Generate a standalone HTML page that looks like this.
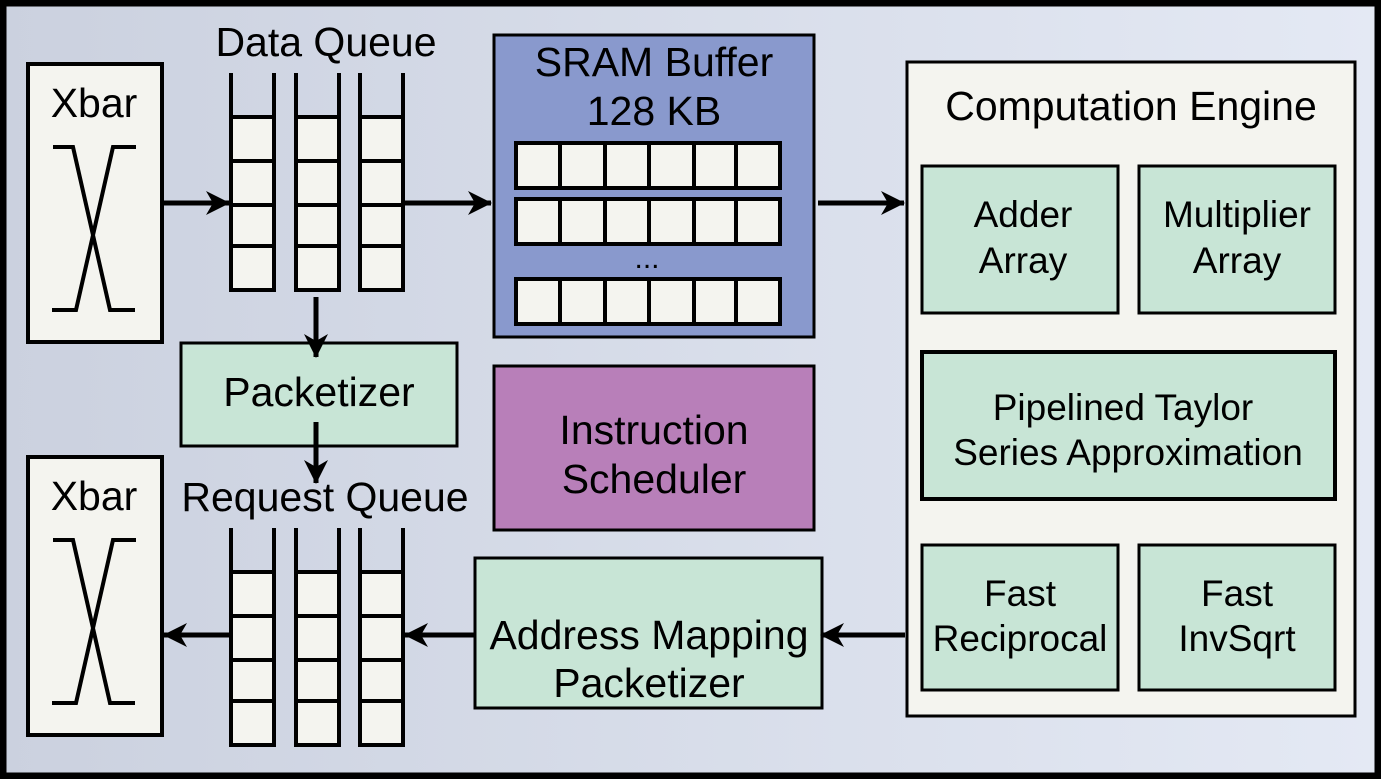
<!DOCTYPE html>
<html><head><style>
body{margin:0;width:1381px;height:779px;overflow:hidden;font-family:"Liberation Sans",sans-serif}
</style></head><body>
<svg width="1381" height="779" viewBox="0 0 1381 779" xmlns="http://www.w3.org/2000/svg" font-family="Liberation Sans, sans-serif">
<defs>
<linearGradient id="bg" x1="0" x2="1" y1="0" y2="0"><stop offset="0" stop-color="#cbd1df"/><stop offset="1" stop-color="#e4e9f4"/></linearGradient>
<marker id="ah" viewBox="0 0 24 24" refX="23" refY="12" markerWidth="24" markerHeight="24" markerUnits="userSpaceOnUse" orient="auto">
<path d="M0,0 L24,12 L0,24 L7,12 Z" fill="#000"/></marker>
<g id="q">
<path d="M2,0 V217 H45 V0" fill="none" stroke="#000" stroke-width="4"/>
<rect x="2" y="44" width="43" height="173" fill="#f4f4ef" stroke="#000" stroke-width="4"/>
<path d="M2,88 H45 M2,132 H45 M2,173 H45" stroke="#000" stroke-width="4"/>
</g>
<g id="xb">
<rect x="0" y="0" width="134" height="278" fill="#f4f4ef" stroke="#000" stroke-width="4"/>
<path d="M25,83 H45 L82,246 H107 M108,83 H85 L48,246 H24" fill="none" stroke="#000" stroke-width="4"/>
</g>
<g id="row">
<rect x="0" y="0" width="264" height="45" fill="#f4f4ef" stroke="#000" stroke-width="4"/>
<path d="M44,0 V45 M89,0 V45 M133,0 V45 M178,0 V45 M220,0 V45" stroke="#000" stroke-width="4"/>
</g>
</defs>
<rect x="3" y="3" width="1375" height="773" fill="url(#bg)" stroke="#000" stroke-width="7"/>
<use href="#xb" x="28" y="64"/>
<text x="94" y="117" font-size="41" text-anchor="middle">Xbar</text>
<use href="#xb" x="28" y="457"/>
<text x="94" y="510" font-size="41" text-anchor="middle">Xbar</text>
<text x="326" y="56" font-size="41" text-anchor="middle">Data Queue</text>
<use href="#q" x="229" y="73"/><use href="#q" x="294" y="73"/><use href="#q" x="358" y="73"/>
<text x="325" y="511" font-size="41" text-anchor="middle">Request Queue</text>
<use href="#q" x="229" y="528"/><use href="#q" x="294" y="528"/><use href="#q" x="358" y="528"/>
<rect x="494" y="35" width="320" height="302" fill="#8999cd" stroke="#000" stroke-width="3"/>
<text x="654" y="76" font-size="41" text-anchor="middle">SRAM Buffer</text>
<text x="654" y="125" font-size="41" text-anchor="middle">128 KB</text>
<use href="#row" x="516" y="143"/><use href="#row" x="516" y="199"/><use href="#row" x="516" y="279"/>
<text x="647" y="268" font-size="30" text-anchor="middle">...</text>
<rect x="181" y="343" width="276" height="103" fill="#c8e5d6" stroke="#000" stroke-width="3"/>
<text x="319" y="406" font-size="41" text-anchor="middle">Packetizer</text>
<rect x="494" y="366" width="320" height="164" fill="#b87fb9" stroke="#000" stroke-width="3"/>
<text x="654" y="444" font-size="41" text-anchor="middle">Instruction</text>
<text x="654" y="493" font-size="41" text-anchor="middle">Scheduler</text>
<rect x="475" y="558" width="347" height="150" fill="#c8e5d6" stroke="#000" stroke-width="3"/>
<text x="649" y="649" font-size="41" text-anchor="middle">Address Mapping</text>
<text x="649" y="697" font-size="41" text-anchor="middle">Packetizer</text>
<rect x="907" y="62" width="448" height="654" fill="#f4f4ef" stroke="#000" stroke-width="3"/>
<text x="1131" y="120" font-size="41" text-anchor="middle">Computation Engine</text>
<rect x="922" y="166" width="196" height="147" fill="#c8e5d6" stroke="#000" stroke-width="3"/>
<text x="1023" y="227" font-size="37" text-anchor="middle">Adder</text>
<text x="1023" y="273" font-size="37" text-anchor="middle">Array</text>
<rect x="1139" y="166" width="196" height="147" fill="#c8e5d6" stroke="#000" stroke-width="3"/>
<text x="1237" y="227" font-size="37" text-anchor="middle">Multiplier</text>
<text x="1237" y="273" font-size="37" text-anchor="middle">Array</text>
<rect x="922" y="352" width="413" height="147" fill="#c8e5d6" stroke="#000" stroke-width="4"/>
<text x="1123" y="420" font-size="37" text-anchor="middle">Pipelined Taylor</text>
<text x="1128" y="465" font-size="37" text-anchor="middle">Series Approximation</text>
<rect x="922" y="545" width="196" height="145" fill="#c8e5d6" stroke="#000" stroke-width="3"/>
<text x="1020" y="606" font-size="37" text-anchor="middle">Fast</text>
<text x="1020" y="651" font-size="37" text-anchor="middle">Reciprocal</text>
<rect x="1139" y="545" width="196" height="145" fill="#c8e5d6" stroke="#000" stroke-width="3"/>
<text x="1237" y="606" font-size="37" text-anchor="middle">Fast</text>
<text x="1237" y="651" font-size="37" text-anchor="middle">InvSqrt</text>
<g stroke="#000" stroke-width="5" marker-end="url(#ah)">
<line x1="164" y1="203" x2="229" y2="203"/>
<line x1="405" y1="203" x2="491" y2="203"/>
<line x1="818" y1="203" x2="904" y2="203"/>
<line x1="316" y1="297" x2="316" y2="357"/>
<line x1="316" y1="422" x2="316" y2="483"/>
<line x1="905" y1="635" x2="821" y2="635"/>
<line x1="474" y1="635" x2="405" y2="635"/>
<line x1="229" y1="635" x2="164" y2="635"/>
</g>
</svg>
</body></html>
